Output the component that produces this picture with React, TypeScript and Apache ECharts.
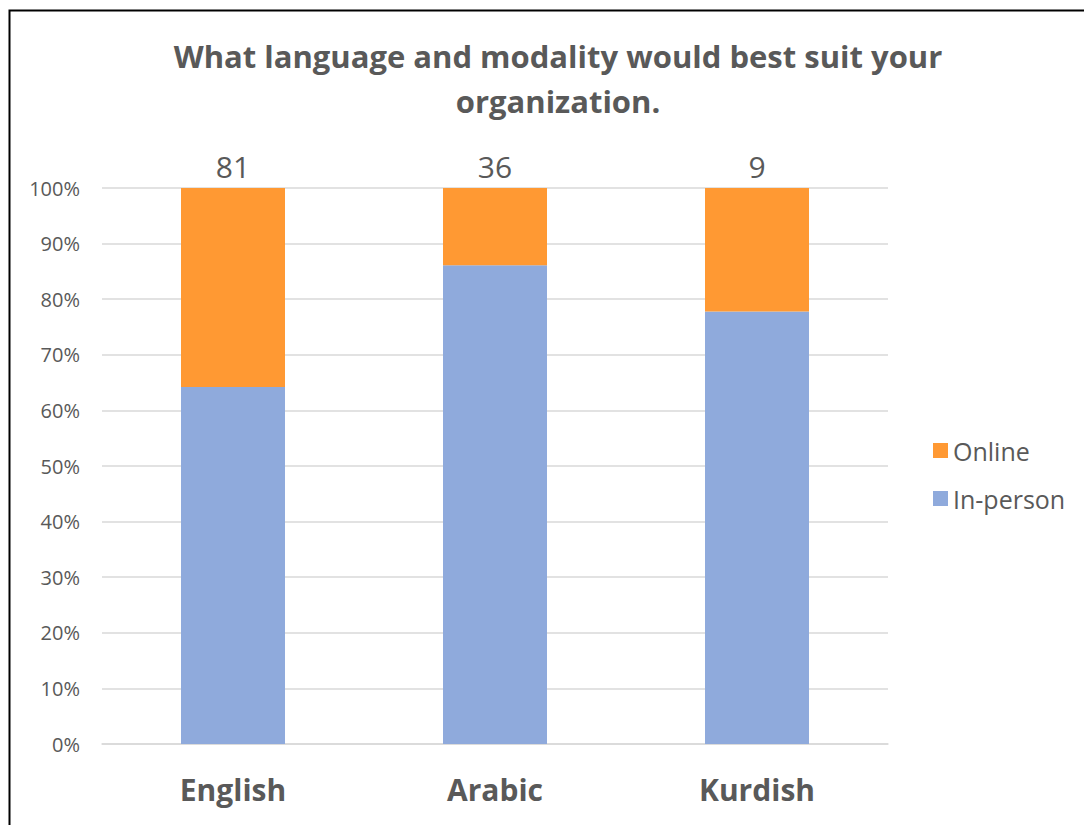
import React, { useEffect, useRef } from "react";
import * as echarts from "echarts";

const categories = ["English", "Arabic", "Kurdish"];
const inPersonCounts = [52, 31, 7];
const onlineCounts = [29, 5, 2];
const totals = [81, 36, 9];
const yTicks = [0, 10, 20, 30, 40, 50, 60, 70, 80, 90, 100];

const FONT = "'Open Sans', Lato, sans-serif";
const GREY = "#595959";

export default function App() {
  const ref = useRef<HTMLDivElement>(null);
  useEffect(() => {
    document.body.style.margin = "0";
    const chart = echarts.init(ref.current!, null, { renderer: "svg" });
    const inPct = inPersonCounts.map((v, i) => (v / totals[i]) * 100);
    const onPct = onlineCounts.map((v, i) => (v / totals[i]) * 100);
    chart.setOption({
      animation: false,
      backgroundColor: "#ffffff",
      title: {
        text: "What language and modality would best suit your\norganization.",
        left: 553,
        textAlign: "center",
        top: 28,
        textStyle: {
          fontFamily: FONT,
          fontSize: 31,
          fontWeight: "bold",
          color: GREY,
          lineHeight: 45,
        },
      },
      legend: {
        orient: "vertical",
        left: 928,
        top: 433,
        itemWidth: 15,
        itemHeight: 15,
        itemGap: 23,
        icon: "rect",
        data: ["Online", "In-person"],
        textStyle: { fontFamily: FONT, fontSize: 25, color: GREY, padding: [0, 0, 0, 0] },
      },
      grid: { left: 102, right: 196, top: 188, bottom: 81 },
      xAxis: {
        type: "category",
        data: categories,
        axisTick: { show: false },
        axisLine: { lineStyle: { color: "#D9D9D9", width: 1.5 } },
        axisLabel: {
          fontFamily: FONT,
          fontSize: 30,
          fontWeight: "bold",
          color: GREY,
          margin: 30,
        },
      },
      yAxis: {
        type: "value",
        min: 0,
        max: 100,
        interval: 10,
        axisLine: { show: false },
        axisTick: { show: false },
        splitLine: { lineStyle: { color: "#D9D9D9", width: 1.5 } },
        axisLabel: {
          fontFamily: FONT,
          fontSize: 20,
          color: GREY,
          margin: 22,
          formatter: (v: number) => (yTicks.includes(v) ? v + "%" : ""),
        },
      },
      series: [
        {
          name: "In-person",
          type: "bar",
          stack: "total",
          barWidth: 104,
          data: inPct,
          itemStyle: { color: "#8FAADC" },
        },
        {
          name: "Online",
          type: "bar",
          stack: "total",
          barWidth: 104,
          data: onPct,
          itemStyle: { color: "#FF9933" },
          label: {
            show: true,
            position: "top",
            distance: 7,
            fontFamily: FONT,
            fontSize: 30,
            color: GREY,
            formatter: (p: any) => String(totals[p.dataIndex]),
          },
        },
      ],
      graphic: [
        {
          type: "rect",
          shape: { x: 9.5, y: 10.5, width: 1200, height: 1000 },
          style: { fill: "none", stroke: "#000000", lineWidth: 2 },
          silent: true,
        },
      ],
    });
    return () => chart.dispose();
  }, []);
  return <div ref={ref} style={{ width: 1084, height: 825 }} />;
}
